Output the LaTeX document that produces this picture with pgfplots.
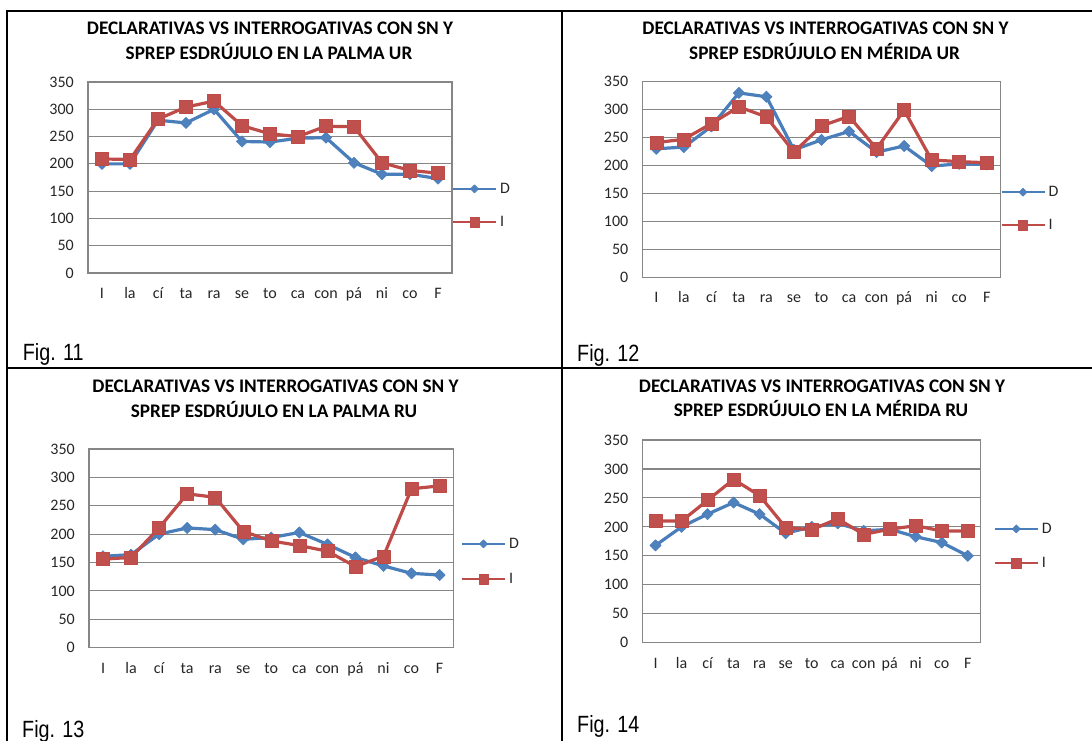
\documentclass[border=0pt]{standalone}
\usepackage{pgfplots}
\pgfplotsset{compat=1.18}
\usepackage{pgfplotstable}
\usepackage{graphicx}
\usepackage{fontspec}
\setmainfont{Carlito}
\newfontfamily\figfont{Liberation Sans}

\definecolor{colD}{HTML}{4A7EBB}
\definecolor{colDm}{HTML}{4F81BD}
\definecolor{colI}{HTML}{BE4B48}
\definecolor{colIm}{HTML}{C0504D}
\definecolor{gridg}{HTML}{868686}

\newcommand\ticksize{\fontsize{16}{19}\selectfont}
\newcommand\titsize{\fontsize{19.2}{24}\selectfont\bfseries}
\newcommand\figsize{\fontsize{23.5}{26}\figfont}

% syllable index, D (declarativas), I (interrogativas)
\pgfplotstableread{
x D I
0 200 209
1 200 208
2 280 282
3 275 304
4 300 315
5 241 270
6 240 255
7 247 250
8 248 269
9 202 268
10 181 202
11 181 188
12 173 183
}\palmaur
\pgfplotstableread{
x D I
0 230 241
1 233 247
2 270 275
3 330 305
4 323 287
5 228 224
6 246 271
7 261 288
8 224 230
9 235 299
10 199 210
11 203 207
12 202 205
}\meridaur
\pgfplotstableread{
x D I
0 161 156
1 164 159
2 200 211
3 211 271
4 208 265
5 191 205
6 194 188
7 203 180
8 182 170
9 159 143
10 144 161
11 131 280
12 128 285
}\palmaru
\pgfplotstableread{
x D I
0 168 210
1 200 210
2 222 246
3 242 282
4 222 254
5 189 199
6 200 195
7 206 214
8 193 187
9 196 196
10 183 202
11 173 193
12 150 193
}\meridaru

\pgfplotsset{
  panel/.style={
    scale only axis,
    anchor=north west,
    xmin=-0.5, xmax=12.5, ymin=0, ymax=350,
    xtick={0,...,12},
    xticklabels={I,la,cí,ta,ra,se,to,ca,con,pá,ni,co,F},
    ytick={0,50,...,350},
    major tick length=0pt,
    ymajorgrids,
    grid style={gridg, line width=1.1pt},
    axis line style={gridg, line width=1.1pt},
    tick label style={font=\ticksize, text=black!85, inner sep=0pt},
    /pgf/number format/assume math mode=true,
    yticklabel style={anchor=east, xshift=-14pt},
    xticklabel style={anchor=base, yshift=-25.5pt},
    legend style={draw=none, fill=none, inner sep=0pt, outer sep=0pt,
      anchor=west, font=\ticksize, column sep=3pt,
      nodes={inner sep=0pt, text=black!85}},
    legend cell align=left,
    legend image code/.code={
      \draw[##1, line width=2pt, mark=none] (0pt,0pt) -- (43pt,0pt);
      \draw[##1, every mark/.append style={scale=0.72}] plot coordinates {(21.5pt,0pt)};
    },
  },
  sD/.style={colD, line width=3.2pt, line join=round, mark=square*, mark size=4pt,
    mark options={rotate=45, fill=colDm, draw=colD, line width=0.5pt}},
  sI/.style={colI, line width=3.2pt, line join=round, mark=square*, mark size=6.5pt,
    mark options={fill=colIm, draw=colI, line width=0.5pt}},
}

\begin{document}
\begin{tikzpicture}
\useasboundingbox (0pt,0pt) rectangle (1092pt,-740pt);

% table rules
\draw[line width=2pt] (7pt,-745pt) -- (7pt,-11pt) -- (1095pt,-11pt);
\draw[line width=1.4pt] (562pt,-11pt) -- (562pt,-745pt);
\draw[line width=2pt] (7pt,-368pt) -- (1095pt,-368pt);

% Fig. 11
\node[anchor=base, inner sep=0pt, font=\titsize] at (270pt,-34.3pt) {DECLARATIVAS VS INTERROGATIVAS CON SN Y};
\node[anchor=base, inner sep=0pt, font=\titsize] at (269pt,-59.3pt) {SPREP ESDRÚJULO EN LA PALMA UR};
\begin{axis}[panel, width=364pt, height=191pt, at={(88pt,-82pt)},
  legend style={at={(axis description cs:1,0.3534)}, row sep=21.5pt}]
  \addplot[sD] table[x=x, y=D] {\palmaur};
  \addplot[sI] table[x=x, y=I] {\palmaur};
  \legend{D,I}
\end{axis}
\node[anchor=base west, inner sep=0pt, font=\figsize] at (22.7pt,-360pt) {\scalebox{0.84}[1]{Fig. 11}};

% Fig. 12
\node[anchor=base, inner sep=0pt, font=\titsize] at (825.5pt,-34.3pt) {DECLARATIVAS VS INTERROGATIVAS CON SN Y};
\node[anchor=base, inner sep=0pt, font=\titsize] at (824.6pt,-59.3pt) {SPREP ESDRÚJULO EN MÉRIDA UR};
\begin{axis}[panel, width=358pt, height=195.6pt, at={(642.5pt,-81.7pt)},
  legend style={at={(axis description cs:1,0.3507)}, row sep=21.2pt}]
  \addplot[sD] table[x=x, y=D] {\meridaur};
  \addplot[sI] table[x=x, y=I] {\meridaur};
  \legend{D,I}
\end{axis}
\node[anchor=base west, inner sep=0pt, font=\figsize] at (577pt,-361pt) {\scalebox{0.84}[1]{Fig. 12}};

% Fig. 13
\node[anchor=base, inner sep=0pt, font=\titsize] at (275.5pt,-392.7pt) {DECLARATIVAS VS INTERROGATIVAS CON SN Y};
\node[anchor=base, inner sep=0pt, font=\titsize] at (274pt,-417.3pt) {SPREP ESDRÚJULO EN LA PALMA RU};
\begin{axis}[panel, width=364.6pt, height=198.7pt, at={(89pt,-449pt)},
  legend style={at={(axis description cs:1,0.4338)}, xshift=7.4pt, row sep=23.5pt}]
  \addplot[sD] table[x=x, y=D] {\palmaru};
  \addplot[sI] table[x=x, y=I] {\palmaru};
  \legend{D,I}
\end{axis}
\node[anchor=base west, inner sep=0pt, font=\figsize] at (22pt,-737pt) {\scalebox{0.84}[1]{Fig. 13}};

% Fig. 14
\node[anchor=base, inner sep=0pt, font=\titsize] at (822pt,-392pt) {DECLARATIVAS VS INTERROGATIVAS CON SN Y};
\node[anchor=base, inner sep=0pt, font=\titsize] at (821pt,-416pt) {SPREP ESDRÚJULO EN LA MÉRIDA RU};
\begin{axis}[panel, width=338.3pt, height=202.7pt, at={(642.5pt,-440pt)},
  legend style={at={(axis description cs:1,0.477)}, xshift=13pt, row sep=22.5pt}]
  \addplot[sD] table[x=x, y=D] {\meridaru};
  \addplot[sI] table[x=x, y=I] {\meridaru};
  \legend{D,I}
\end{axis}
\node[anchor=base west, inner sep=0pt, font=\figsize] at (577pt,-732.7pt) {\scalebox{0.84}[1]{Fig. 14}};

\end{tikzpicture}
\end{document}
